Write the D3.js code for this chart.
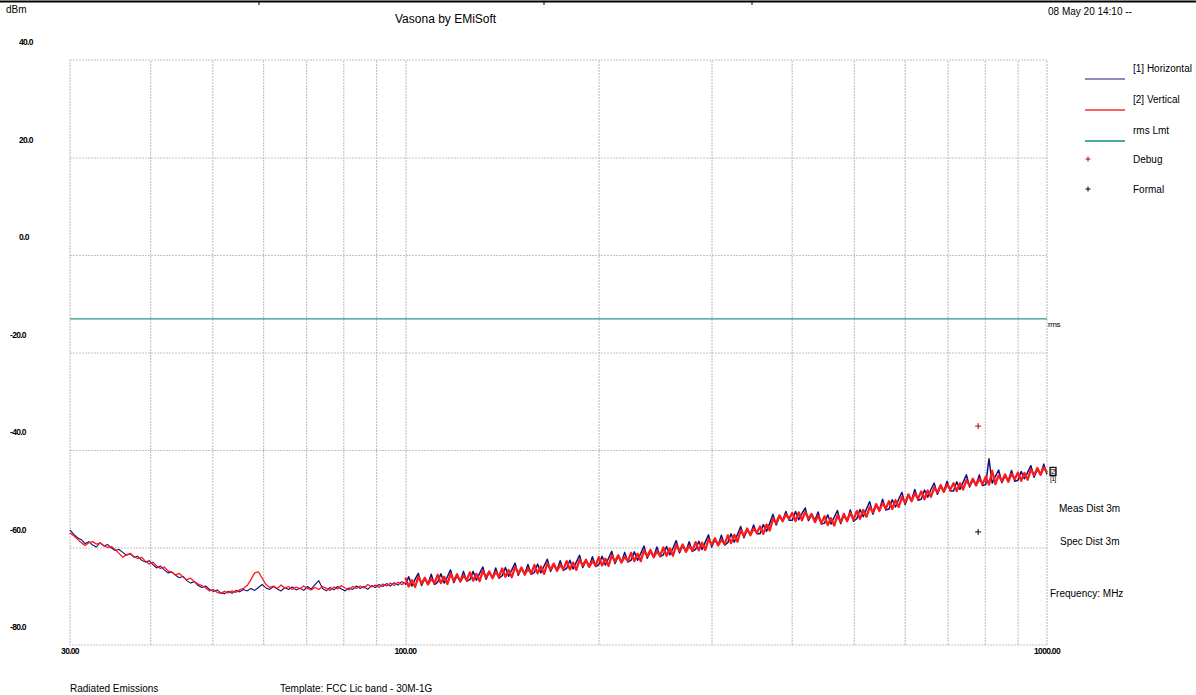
<!DOCTYPE html>
<html>
<head>
<meta charset="utf-8">
<script src="https://cdn.jsdelivr.net/npm/d3@7"></script>
<style>
  body { margin: 0; background: #fff; }
  text { font-family: "Liberation Sans", Arial, sans-serif; fill: #000; }
  .tick-lbl { font-size: 8.5px; font-weight: bold; letter-spacing: -0.7px; }
  .small { font-size: 10px; }
</style>
</head>
<body>
<div id="chart"></div>
<script>
// ---- data ----
const yTicks = [40, 20, 0, -20, -40, -60, -80];
const xLabels = [30, 100, 1000];
const gridFreqs = [40, 50, 60, 70, 80, 90, 100, 200, 300, 400, 500, 600, 700, 800, 900];

const lowSweep = [30, 100];
const highSweep = [100, 1000];

// [1] Horizontal, 30-100 MHz
const horizLow = [-56.4,-57.3,-58.0,-58.4,-59.2,-58.8,-59.5,-59.9,-59.0,-59.7,
  -59.4,-60.1,-60.6,-60.4,-61.0,-61.6,-61.3,-62.0,-61.8,-62.6,
  -63.0,-62.7,-63.5,-64.2,-63.8,-64.6,-65.2,-65.0,-65.7,-66.2,
  -65.9,-66.8,-67.3,-67.0,-67.8,-68.2,-67.9,-68.6,-69.0,-68.7,
  -69.3,-69.5,-69.0,-69.4,-68.8,-69.1,-68.6,-68.9,-68.4,-68.8,
  -68.2,-67.6,-68.3,-68.6,-68.0,-68.5,-68.9,-68.2,-68.6,-68.1,
  -68.7,-68.3,-68.8,-68.0,-68.5,-67.6,-66.8,-68.4,-68.9,-68.2,
  -68.7,-68.0,-68.5,-68.9,-68.3,-68.6,-67.9,-68.4,-68.0,-68.6,
  -67.8,-68.2,-67.6,-68.0,-67.4,-67.9,-67.2,-67.7,-67.0,-67.4];

// [2] Vertical, 30-100 MHz
const vertLow = [-57.0,-57.6,-58.3,-59.0,-59.6,-59.0,-58.8,-59.3,-59.1,-59.6,
  -60.0,-59.8,-60.4,-61.2,-62.0,-61.5,-61.2,-61.9,-62.3,-62.0,
  -62.8,-63.4,-63.0,-63.8,-64.3,-64.0,-64.8,-65.1,-65.6,-65.3,
  -66.1,-66.6,-66.3,-67.0,-67.5,-67.8,-68.3,-68.9,-68.6,-69.2,
  -69.4,-69.0,-69.3,-68.9,-69.2,-68.7,-68.4,-67.8,-66.6,-65.2,
  -65.0,-66.3,-67.6,-68.2,-67.9,-68.4,-67.7,-68.3,-68.0,-68.6,
  -68.1,-68.5,-67.9,-68.4,-68.7,-68.2,-68.6,-68.0,-68.4,-68.8,
  -68.1,-68.5,-67.8,-68.3,-68.7,-68.0,-68.4,-67.9,-68.3,-67.6,
  -68.1,-67.7,-68.2,-67.5,-67.9,-67.3,-67.8,-67.1,-67.6,-67.2];

// [1] Horizontal, 100-1000 MHz
const horizHigh = [
  -67.7,-66.0,-67.9,-66.5,-65.3,-67.8,-66.4,-67.5,-65.5,-67.6,
  -67.1,-65.4,-67.3,-66.0,-64.6,-67.2,-65.8,-66.9,-64.9,-66.9,
  -66.6,-64.9,-66.7,-65.3,-64.0,-66.5,-65.1,-66.2,-64.2,-66.3,
  -65.8,-64.1,-65.9,-64.6,-63.2,-65.7,-64.3,-65.4,-63.5,-65.5,
  -65.1,-63.4,-65.2,-63.8,-62.4,-64.9,-63.5,-64.7,-62.7,-64.7,
  -64.3,-62.6,-64.4,-63.0,-61.6,-64.1,-62.7,-63.9,-61.9,-63.9,
  -63.5,-61.8,-63.6,-62.2,-60.8,-63.3,-61.8,-63.0,-61.0,-63.0,
  -62.6,-60.9,-62.6,-61.2,-59.7,-62.2,-60.8,-61.9,-59.9,-61.9,
  -61.5,-59.8,-61.5,-60.1,-58.6,-61.1,-59.7,-60.8,-58.8,-60.8,
  -60.4,-58.7,-60.4,-58.9,-57.4,-59.9,-58.4,-59.5,-57.5,-59.5,
  -59.0,-57.2,-58.9,-57.3,-55.7,-58.0,-56.4,-57.3,-55.4,-57.2,
  -57.2,-55.3,-56.7,-55.0,-53.2,-55.4,-53.7,-54.5,-52.6,-54.4,
  -54.4,-52.6,-54.3,-53.0,-51.9,-54.5,-53.3,-54.4,-52.7,-55.2,
  -55.0,-53.3,-55.2,-53.8,-52.4,-55.1,-53.4,-54.5,-52.3,-54.6,
  -54.1,-52.2,-53.7,-52.1,-50.6,-53.2,-51.4,-52.3,-50.1,-52.3,
  -52.1,-50.2,-51.7,-50.1,-48.7,-51.2,-49.4,-50.3,-48.1,-50.3,
  -50.1,-48.2,-49.7,-48.1,-46.8,-49.1,-47.5,-48.4,-46.4,-48.4,
  -48.4,-46.5,-48.1,-46.6,-45.1,-47.6,-46.2,-47.1,-45.1,-47.3,
  -47.1,-41.8,-46.8,-45.4,-44.1,-46.7,-45.3,-46.3,-44.2,-46.4,
  -46.2,-44.4,-45.9,-44.6,-43.2,-45.6,-44.0,-45.0,-42.9,-45.0];

// [2] Vertical, 100-1000 MHz
const vertHigh = [
  -66.2,-68.0,-66.7,-68.1,-66.0,-67.4,-66.2,-67.6,-66.4,-67.3,
  -65.6,-67.3,-66.0,-67.5,-65.4,-66.8,-65.5,-67.0,-65.8,-66.7,
  -65.1,-66.8,-65.4,-66.9,-64.8,-66.1,-64.9,-66.3,-65.0,-66.0,
  -64.3,-66.0,-64.6,-66.1,-64.0,-65.3,-64.1,-65.6,-64.4,-65.3,
  -63.6,-65.3,-63.9,-65.4,-63.3,-64.5,-63.3,-64.8,-63.6,-64.5,
  -62.8,-64.5,-63.1,-64.6,-62.5,-63.7,-62.5,-64.0,-62.8,-63.7,
  -62.0,-63.7,-62.3,-63.8,-61.6,-62.9,-61.6,-63.1,-61.9,-62.8,
  -61.1,-62.8,-61.3,-62.8,-60.6,-61.8,-60.5,-62.0,-60.8,-61.7,
  -60.0,-61.7,-60.2,-61.7,-59.5,-60.7,-59.4,-60.9,-59.7,-60.6,
  -58.9,-60.6,-59.0,-60.5,-58.3,-59.4,-58.1,-59.6,-58.4,-59.3,
  -57.5,-59.1,-57.4,-58.8,-56.5,-57.6,-56.1,-57.5,-56.1,-57.0,
  -55.7,-57.2,-55.3,-56.5,-54.1,-55.0,-53.4,-54.6,-53.2,-54.1,
  -52.9,-54.6,-52.8,-54.4,-52.7,-54.1,-53.1,-54.8,-53.5,-55.0,
  -53.6,-55.4,-54.0,-55.5,-53.4,-54.8,-53.1,-54.6,-52.9,-54.3,
  -52.5,-54.1,-52.3,-53.7,-51.7,-52.8,-51.1,-52.5,-50.9,-52.0,
  -50.5,-52.1,-50.3,-51.7,-49.7,-50.8,-49.1,-50.5,-48.9,-50.0,
  -48.5,-50.1,-48.3,-49.6,-47.7,-48.7,-47.2,-48.6,-47.1,-48.1,
  -46.8,-48.4,-46.8,-48.1,-46.2,-47.3,-45.9,-47.3,-45.9,-47.0,
  -45.5,-47.1,-44.3,-47.0,-45.2,-46.4,-45.0,-46.5,-44.9,-46.0,
  -44.6,-46.3,-44.7,-46.1,-44.0,-45.2,-43.7,-45.1,-43.6,-44.6];

const rmsLimit = -13.1;
const debugPts = [[781, -35.1]];
const formalPts = [[781, -56.8]];

const legendNames = ['[1] Horizontal', '[2] Vertical', 'rms Lmt', 'Debug', 'Formal'];
const legendColors = ['#1a1a80', '#f06464', '#4aa9a0', '#a01010', '#000'];

// ---- layout ----
const W = 1196, H = 695;
const plot = { left: 70, right: 1047, top: 60, bottom: 645 };

const svg = d3.select('#chart').append('svg')
  .attr('width', W).attr('height', H);

const x = d3.scaleLog().domain([30, 1000]).range([plot.left, plot.right]);
const y = d3.scaleLinear().domain([-80, 40]).range([plot.bottom, plot.top]);

// spread each sweep's readings across its span, in log frequency
function sweep(levels, span) {
  const n = levels.length;
  return levels.map((v, i) => [span[0] * Math.pow(span[1] / span[0], i / (n - 1)), v]);
}

// top rule
svg.append('line').attr('x1', 0).attr('x2', W).attr('y1', 1.5).attr('y2', 1.5)
  .attr('stroke', '#000').attr('stroke-width', 2);
[259, 544, 752].forEach(px => {
  svg.append('line').attr('x1', px).attr('x2', px).attr('y1', 1).attr('y2', 5)
    .attr('stroke', '#000').attr('stroke-width', 1);
});

// grid
const gridStyle = g => g.selectAll('line')
  .attr('stroke', '#c4c4c4').attr('stroke-width', 1.2).attr('stroke-dasharray', '2,1');

svg.append('g')
  .attr('transform', `translate(0,${plot.bottom})`)
  .call(d3.axisBottom(x).tickValues(gridFreqs).tickSize(-(plot.bottom - plot.top)).tickFormat(''))
  .call(g => g.select('.domain').remove())
  .call(gridStyle);

svg.append('g')
  .attr('transform', `translate(${plot.left},0)`)
  .call(d3.axisLeft(y).tickValues(yTicks.slice(1, -1)).tickSize(-(plot.right - plot.left)).tickFormat(''))
  .call(g => g.select('.domain').remove())
  .call(gridStyle);

svg.append('rect')
  .attr('x', plot.left).attr('y', plot.top)
  .attr('width', plot.right - plot.left).attr('height', plot.bottom - plot.top)
  .attr('fill', 'none').attr('stroke', '#c4c4c4').attr('stroke-width', 1.2)
  .attr('stroke-dasharray', '2,1');

// y labels sit above their gridline
svg.selectAll('.ylbl').data(yTicks).enter().append('text')
  .attr('class', 'tick-lbl')
  .attr('x', d => d < 0 ? 10 : 19)
  .attr('y', d => y(d) - 15)
  .text(d => d.toFixed(1));

svg.selectAll('.xlbl').data(xLabels).enter().append('text')
  .attr('class', 'tick-lbl')
  .attr('text-anchor', 'middle')
  .attr('x', d => x(d))
  .attr('y', plot.bottom + 9)
  .text(d => d.toFixed(2));

// limit line
svg.append('line')
  .attr('x1', x(30)).attr('x2', x(1000))
  .attr('y1', y(rmsLimit)).attr('y2', y(rmsLimit))
  .attr('stroke', '#2e9590').attr('stroke-width', 1.3);
svg.append('text').attr('x', plot.right + 1).attr('y', y(rmsLimit) + 8)
  .style('font-size', '8px').style('letter-spacing', '-0.4px').text('rms');

// traces: blue under red; the dense upper sweep drawn heavier
const line = d3.line().x(d => x(d[0])).y(d => y(d[1]));
const traces = [
  [horizLow, lowSweep, '#10107a', 1.1],
  [vertLow, lowSweep, '#ff1a1a', 1.3],
  [horizHigh, highSweep, '#10107a', 1.5],
  [vertHigh, highSweep, '#ff1a1a', 2.3]
];
// keep both blues below both reds
[traces[0], traces[2], traces[1], traces[3]].forEach(([lv, span, col, sw]) => {
  svg.append('path').datum(sweep(lv, span))
    .attr('d', line).attr('fill', 'none')
    .attr('stroke', col).attr('stroke-width', sw).attr('stroke-linejoin', 'round');
});

// trace end labels
const endY = y(vertHigh[vertHigh.length - 1]);
svg.append('rect').attr('x', plot.right + 3).attr('y', endY - 5).attr('width', 6).attr('height', 8)
  .attr('fill', 'none').attr('stroke', '#000').attr('stroke-width', 1.2);
svg.append('text').attr('x', plot.right + 3).attr('y', endY + 2)
  .style('font-size', '7px').style('letter-spacing', '-0.8px').text('[2]');
svg.append('text').attr('x', plot.right + 3).attr('y', endY + 9)
  .style('font-size', '7px').style('letter-spacing', '-0.8px').text('[1]');

// markers
const cross = (pts, color) => svg.selectAll(null).data(pts).enter().append('path')
  .attr('d', d => {
    const cx = x(d[0]), cy = y(d[1]);
    return `M${cx - 3},${cy}H${cx + 3}M${cx},${cy - 3}V${cy + 3}`;
  })
  .attr('stroke', color).attr('stroke-width', 1);
cross(debugPts, '#a01010');
cross(formalPts, '#000');

// header / footer text
svg.append('text').attr('class', 'small').attr('x', 6).attr('y', 13).text('dBm');
svg.append('text').attr('x', 395).attr('y', 23).style('font-size', '12px').text('Vasona by EMiSoft');
svg.append('text').attr('class', 'small').attr('x', 1048).attr('y', 15).text('08 May 20 14:10 --');
svg.append('text').attr('class', 'small').attr('x', 70).attr('y', 692).text('Radiated Emissions');
svg.append('text').attr('class', 'small').attr('x', 280).attr('y', 692).text('Template: FCC Lic band - 30M-1G');
svg.append('text').attr('class', 'small').attr('x', 1059).attr('y', 512).text('Meas Dist 3m');
svg.append('text').attr('class', 'small').attr('x', 1060).attr('y', 545).text('Spec Dist 3m');
svg.append('text').attr('class', 'small').attr('x', 1050).attr('y', 597).text('Frequency: MHz');

// legend
const leg = svg.append('g');
legendNames.forEach((name, i) => {
  const ty = 72 + i * 31 - (i > 2 ? 2 + (i - 3) * 1 : 0);
  leg.append('text').attr('class', 'small').attr('x', 1133).attr('y', ty).text(name);
  if (i < 3) {
    leg.append('line').attr('x1', 1085).attr('x2', 1125)
      .attr('y1', ty + 7).attr('y2', ty + 7)
      .attr('stroke', legendColors[i]).attr('stroke-width', i === 0 ? 1.2 : 1.8);
  } else {
    const cy = ty - 4, cx = 1088;
    leg.append('path').attr('d', `M${cx - 2.5},${cy}H${cx + 2.5}M${cx},${cy - 2.5}V${cy + 2.5}`)
      .attr('stroke', legendColors[i]).attr('stroke-width', 1);
  }
});
</script>
</body>
</html>
